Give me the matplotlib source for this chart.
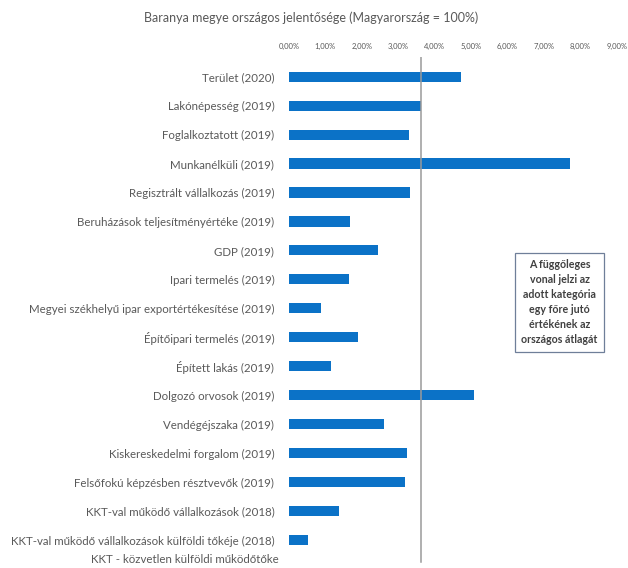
import numpy as np
import matplotlib
matplotlib.use("Agg")
import matplotlib.pyplot as plt
from matplotlib.ticker import FuncFormatter

plt.rcParams['font.family'] = ['Lato', 'DejaVu Sans']

# adatok (Magyarország = 100%)
categories = [
    "Terület (2020)",
    "Lakónépesség (2019)",
    "Foglalkoztatott (2019)",
    "Munkanélküli (2019)",
    "Regisztrált vállalkozás (2019)",
    "Beruházások teljesítményértéke (2019)",
    "GDP (2019)",
    "Ipari termelés (2019)",
    "Megyei székhelyű ipar exportértékesítése (2019)",
    "Építőipari termelés (2019)",
    "Épített lakás (2019)",
    "Dolgozó orvosok (2019)",
    "Vendégéjszaka (2019)",
    "Kiskereskedelmi forgalom (2019)",
    "Felsőfokú képzésben résztvevők (2019)",
    "KKT-val működő vállalkozások (2018)",
    "KKT-val működő vállalkozások külföldi tőkéje (2018)",
    "KKT - közvetlen külföldi működőtőke",
]
values = [4.72, 3.64, 3.30, 7.72, 3.33, 1.68, 2.45, 1.65, 0.88, 1.90,
          1.17, 5.09, 2.61, 3.23, 3.20, 1.37, 0.52, np.nan]
avg_line = 3.64
xticks = [0, 1, 2, 3, 4, 5, 6, 7, 8, 9]

note = ("A függőleges\nvonal jelzi az\nadott kategória\negy főre jutó\n"
        "értékének az\nországos átlagát")

gray = "#595959"
blue = "#0b72c7"

fig = plt.figure(figsize=(6.28, 5.68), dpi=100)
ax = fig.add_axes([0.460, -0.0563, 0.522, 0.956])

y = np.arange(len(categories))
ax.barh(y, values, height=0.35, color=blue)

ax.set_xlim(0, 9)
ax.set_ylim(18.07, -0.68)
ax.set_yticks(y[:-1])
ax.set_yticklabels(categories[:-1], fontsize=8.3, color=gray)
ax.tick_params(axis='y', length=0, pad=10.5)

# az utolsó felirat kétsoros volt, csak az első sora látszik -> kicsit feljebb
ax.annotate(categories[-1], xy=(0, y[-1]), xycoords=('axes fraction', 'data'),
            xytext=(-7, 7), textcoords='offset points',
            ha='right', va='center', fontsize=8.3, color=gray)

ax.xaxis.tick_top()
ax.set_xticks(xticks)
ax.xaxis.set_major_formatter(FuncFormatter(lambda v, p: f"{v:.2f}%".replace(".", ",")))
ax.tick_params(axis='x', length=0, pad=5, labelsize=5.5, labelcolor=gray)

for s in ax.spines.values():
    s.set_visible(False)

ax.axvline(avg_line, ymin=0.07, ymax=1.0, color="#9a9a9a", lw=1.1)

fig.text(0.495, 0.968, "Baranya megye országos jelentősége (Magyarország = 100%)",
         ha="center", va="center", fontsize=9, color=gray)

fig.text(0.891, 0.468, note, ha="center", va="center", fontsize=7.7,
         color="#404040", fontweight="bold", linespacing=1.45,
         bbox=dict(boxstyle="square,pad=0.6", fc="white", ec="#6f7f99", lw=0.9))

fig.savefig("out.png", dpi=100)
